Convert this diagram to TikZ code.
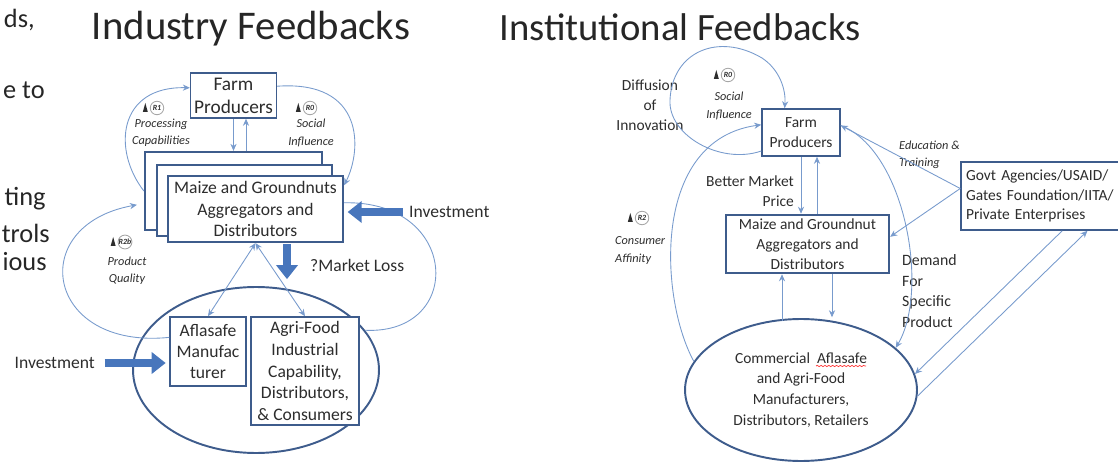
\documentclass[tikz,border=0pt]{standalone}
\usepackage{fontspec}
\setmainfont{Carlito}
\usetikzlibrary{arrows.meta,shapes.geometric,calc,decorations.pathmorphing}

\definecolor{boxblue}{RGB}{62,92,140}
\definecolor{liteblue}{RGB}{120,155,205}
\definecolor{fatblue}{RGB}{72,118,188}
\definecolor{inkgray}{RGB}{45,45,45}

\tikzset{
  box/.style={draw=boxblue,line width=0.9pt,fill=white,align=center,inner sep=2pt,text=inkgray},
  boldbox/.style={box,line width=1.3pt},
  lite/.style={draw=liteblue,line width=0.5pt},
  litearrow/.style={lite,-{Stealth[length=4pt,width=3.5pt]}},
  litedouble/.style={lite,{Stealth[length=4pt,width=3.5pt]}-{Stealth[length=4pt,width=3.5pt]}},
  fatarrow/.style={draw=fatblue,line width=5pt,-{Triangle[length=8pt,width=12pt]}},
  titletxt/.style={font=\fontsize{22.5}{26}\selectfont,text=black!85},
  lefttxt/.style={font=\fontsize{10}{12}\selectfont,text=inkgray,align=center},
  righttxt/.style={font=\fontsize{8.8}{11.5}\selectfont,text=inkgray,align=center},
  looptxt/.style={font=\fontsize{7}{9.8}\selectfont\itshape,text=inkgray,align=center},
  fragtxt/.style={font=\fontsize{15}{18}\selectfont,text=black!85,anchor=east,inner sep=0pt},
  loopring/.style={circle,draw=gray!70,line width=0.5pt,minimum size=0.27cm,inner sep=0pt,
    font=\fontsize{4.5}{5}\selectfont\itshape\bfseries,text=inkgray}
}

% loop marker: name, position, label
\newcommand{\loopmark}[3]{%
  \node[loopring] (#1) at (#2) {#3};
  \fill[inkgray] ($(#1.west)+(-7,4)$) -- ($(#1.west)+(-4.5,-5)$) -- ($(#1.west)+(-2,4)$) -- cycle;
}

\begin{document}
\begin{tikzpicture}[x=0.02cm,y=-0.02cm]
    \useasboundingbox (0,0) rectangle (1118,462);
    \clip (0,0) rectangle (1118,462);

    % slide text cut off at the left
    \node[fragtxt] (fragA) at (35,20) {ds,};
    \node[fragtxt] (fragB) at (45,90) {e to};
    \node[fragtxt] (fragC) at (46,199) {ting};
    \node[fragtxt] (fragD) at (50,233) {trols};
    \node[fragtxt] (fragE) at (47,262) {ious};

    % industry feedbacks
    \node[titletxt,font=\fontsize{23.2}{27}\selectfont] (ttlL) at (251,29) {Industry Feedbacks};
    \node[box,lefttxt,font=\fontsize{11}{13}\selectfont,minimum width=1.7cm,minimum height=0.9cm] (farmL) at (233.5,95.5) {Farm\\Producers};
    \node[boldbox,minimum width=3.54cm,minimum height=1.56cm] (stackA) at (233.5,191) {};
    \node[boldbox,minimum width=3.5cm,minimum height=1.42cm] (stackB) at (244.5,200.5) {};
    \node[boldbox,lefttxt,minimum width=3.5cm,minimum height=1.32cm] (aggL) at (255.5,209) {Maize and Groundnuts\\Aggregators and\\Distributors};
    \node[ellipse,draw=boxblue,line width=1.1pt,minimum width=4.92cm,minimum height=3.32cm,inner sep=0pt] (ellL) at (256,370) {};
    \node[box,lefttxt,minimum width=1.52cm,minimum height=1.38cm] (afla) at (208,351.5) {Aflasafe\\Manufac\\turer};
    \node[box,lefttxt,font=\fontsize{10}{12.5}\selectfont,minimum width=2.16cm,minimum height=2.16cm] (agri) at (305,371) {Agri-Food\\Industrial\\Capability,\\Distributors,\\\& Consumers};

    \loopmark{rOne}{157,108}{R1}
    \node[looptxt] (procL) at (161,133) {Processing\\Capabilities};
    \loopmark{rZeroL}{310,108}{R0}
    \node[looptxt] (socL) at (311,133) {Social\\Influence};
    \loopmark{rTwoB}{125,242}{R2b}
    \node[looptxt] (qualL) at (127,271) {Product\\Quality};

    \node[lefttxt,anchor=west] (invR) at (403,212) {Investment};
    \node[lefttxt,anchor=west] (mloss) at (304,265) {?Market Loss};
    \node[lefttxt,anchor=east] (invL) at (101,363) {Investment};

    \draw[litearrow] (farmL.south) -- (farmL.south |- stackA.north);
    \draw[litearrow] ($(farmL.south |- stackA.north)+(12.5,0)$) -- ($(farmL.south)+(12.5,0)$);
    \draw[litearrow] (stackA.west) .. controls (112,150) and (118,86) .. (farmL.170);
    \draw[litearrow] (farmL.12) .. controls (365,80) and (362,150) .. (aggL.15);
    \draw[litearrow,shorten >=4pt] (afla.160) .. controls (45,350) and (25,225) .. (stackA.188);
    \draw[lite] (ellL.20) .. controls (465,335) and (460,200) .. (aggL.4);
    \draw[litedouble] (aggL.south) -- (afla.north);
    \draw[litedouble] (aggL.south) -- (agri.north);

    \draw[fatarrow,shorten >=2pt] (invR.west) -- (aggL.east |- invR.west);
    \draw[fatarrow] ($(aggL.south)+(31.5,1)$) -- ($(aggL.south)+(31.5,36)$);
    \draw[fatarrow,shorten <=2pt,shorten >=2pt] (invL.east) -- (afla.west |- invL.east);

    % institutional feedbacks
    \node[titletxt,font=\fontsize{22}{26}\selectfont] (ttlR) at (680,27) {Institutional Feedbacks};
    \node[box,righttxt,minimum width=1.56cm,minimum height=0.94cm] (farmR) at (801,132.5) {Farm\\Producers};
    \node[boldbox,righttxt,minimum width=3.26cm,minimum height=1.16cm] (aggR) at (807.5,244) {Maize and Groundnut\\Aggregators and\\Distributors};
    \node[ellipse,draw=boxblue,line width=1.1pt,minimum width=4.64cm,minimum height=2.84cm,inner sep=0pt,righttxt,font=\fontsize{8.8}{11.9}\selectfont] (ellR) at (801,390) {Commercial~ Aflasafe\\and Agri-Food\\Manufacturers,\\Distributors, Retailers};
    \node[box,righttxt,align=left,minimum width=3.4cm,minimum height=1.36cm,text width=3.2cm,font=\fontsize{8.8}{11.3}\selectfont] (govt) at (1046,196) {Govt Agencies/USAID/\\Gates Foundation/IITA/\\Private Enterprises};
    \draw[red!80,line width=0.4pt,decorate,decoration={snake,amplitude=0.35pt,segment length=2.2pt}] ($(ellR.center)+(15,-24)$) -- ($(ellR.center)+(65,-24)$);

    \node[righttxt] (diff) at (650,105) {Diffusion\\of\\Innovation};
    \node[righttxt,align=right,anchor=east] (price) at (800,191) {Better Market\\Price};
    \loopmark{rZero}{728,75}{R0}
    \node[looptxt] (socR) at (729,106) {Social\\Influence};
    \loopmark{rTwo}{642,218}{R2}
    \node[looptxt,align=left,anchor=west] (affin) at (609,250.5) {Consumer\\Affinity};
    \node[looptxt,align=left,anchor=west] (edu) at (893,154.5) {Education \&\\Training};
    \node[righttxt,align=left,anchor=west,font=\fontsize{9}{11.7}\selectfont] (demand) at (896,291) {Demand\\For\\Specific\\Product};

    \draw[litearrow] (farmR.south) -- (farmR.south |- aggR.north);
    \draw[litearrow] ($(farmR.south |- aggR.north)+(16,0)$) -- ($(farmR.south)+(16,0)$);
    \draw[litearrow] ($(aggR.south)+(-25.5,47)$) -- ($(aggR.south)+(-25.5,0)$);
    \draw[litearrow] ($(aggR.south)+(24.5,0)$) -- ($(aggR.south)+(24.5,43)$);
    \draw[litearrow] (farmR.205) .. controls (720,165) and (668,135) .. (670,100)
        .. controls (672,52) and (718,32) .. (762,58) .. controls (780,70) and (786,90) .. (farmR.124);
    \draw[litearrow] (ellR.165) .. controls (660,300) and (650,140) .. (farmR.169);
    \draw[litearrow] (farmR.10) .. controls (905,150) and (930,290) .. (ellR.24);
    \draw[litearrow] (govt.175) -- (farmR.10);
    \draw[litearrow] (govt.175) -- (aggR.5);
    \draw[litearrow] (govt.-65) -- (ellR.8);
    \draw[litearrow] (ellR.-3) -- (govt.-40);
\end{tikzpicture}
\end{document}
